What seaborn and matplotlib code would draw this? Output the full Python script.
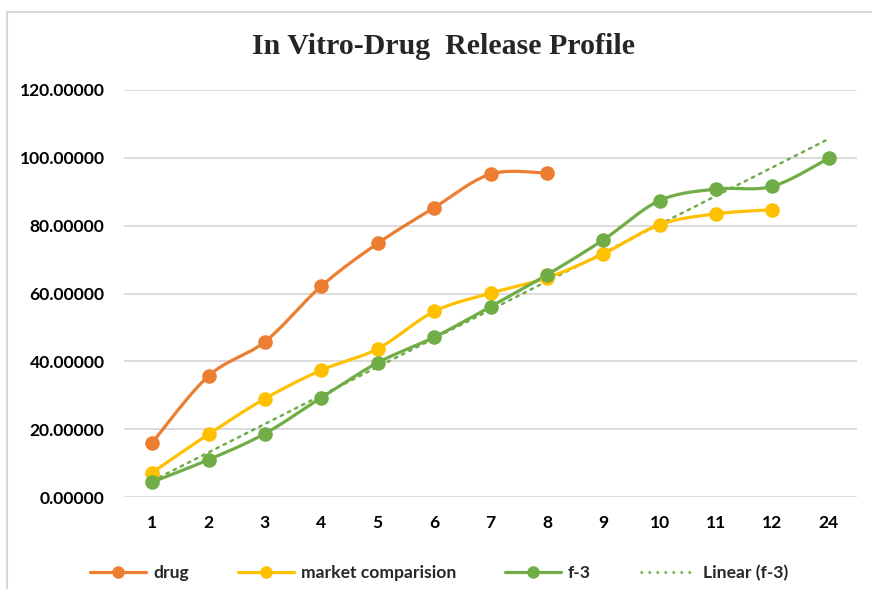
import numpy as np
import pandas as pd
import matplotlib
matplotlib.use("Agg")
import matplotlib.pyplot as plt
from matplotlib.lines import Line2D
from matplotlib.patches import Rectangle
import seaborn as sns

# Sampling times (categories on the x axis)
time_labels = ["1", "2", "3", "4", "5", "6", "7", "8", "9", "10", "11", "12", "24"]

# Cumulative % drug released
drug = [16.0, 35.7, 45.8, 62.2, 74.8, 85.3, 95.2, 95.5]
market = [7.2, 18.5, 29.0, 37.4, 43.7, 54.7, 60.1, 64.6, 71.7, 80.3, 83.5, 84.7]
f3 = [4.4, 11.0, 18.7, 29.3, 39.6, 47.1, 56.1, 65.5, 75.8, 87.4, 90.8, 91.6, 99.9]

y_ticks = [0, 20, 40, 60, 80, 100, 120]

ORANGE = "#ED7D31"
YELLOW = "#FFC000"
GREEN = "#70AD47"
GRID = "#D9D9D9"
FONT = "Lato"


def smooth(xs, ys, n=30):
    """Catmull-Rom curve through the points, as spreadsheet 'smoothed lines'."""
    p = np.column_stack([xs, ys]).astype(float)
    if len(p) < 3:
        return p[:, 0], p[:, 1]
    ext = np.vstack([p[0], p, p[-1]])
    out = []
    t = np.linspace(0, 1, n)[:, None]
    for i in range(1, len(ext) - 2):
        p0, p1, p2, p3 = ext[i - 1], ext[i], ext[i + 1], ext[i + 2]
        c1 = p1 + (p2 - p0) / 6.0
        c2 = p2 - (p3 - p1) / 6.0
        seg = ((1 - t) ** 3) * p1 + 3 * ((1 - t) ** 2) * t * c1 + 3 * (1 - t) * t ** 2 * c2 + t ** 3 * p2
        out.append(seg if i == 1 else seg[1:])
    out = np.vstack(out)
    return out[:, 0], out[:, 1]


sns.set_theme(style="white")
plt.rcParams["font.family"] = [FONT, "DejaVu Sans"]

fig = plt.figure(figsize=(8.72, 5.89), dpi=100)
ax = fig.add_axes([124 / 872, 1 - 497 / 589, (857 - 124) / 872, (497 - 90) / 589])

series = [("drug", drug, ORANGE), ("market comparision", market, YELLOW), ("f-3", f3, GREEN)]

# linear trend of f-3 over category positions 1..n
pos_f3 = np.arange(1, len(f3) + 1)
slope, intercept = np.polyfit(pos_f3, f3, 1)
trend_x = np.array([0, len(f3) - 1])
trend_y = slope * (trend_x + 1) + intercept
sns.lineplot(x=trend_x, y=trend_y, ax=ax, color=GREEN, linewidth=1.8,
             linestyle=(0, (1, 2.2)), dash_capstyle="round", zorder=2, legend=False)

for name, vals, col in series:
    xs = np.arange(len(vals))
    sx, sy = smooth(xs, vals)
    curve = pd.DataFrame({"x": sx, "y": sy})
    sns.lineplot(data=curve, x="x", y="y", ax=ax, color=col, linewidth=2.3,
                 sort=False, estimator=None, zorder=3, legend=False)
    pts = pd.DataFrame({"x": xs, "y": vals})
    sns.scatterplot(data=pts, x="x", y="y", ax=ax, color=col, s=110,
                    edgecolor=col, linewidth=0, zorder=4, legend=False)

ax.set_xlim(-0.5, len(time_labels) - 0.5)
ax.set_ylim(0, 120)
ax.set_xticks(range(len(time_labels)))
ax.set_xticklabels(time_labels)
ax.set_yticks(y_ticks)
ax.set_yticklabels([f"{v:.5f}" for v in y_ticks])
ax.set_xlabel("")
ax.set_ylabel("")
for s in ax.spines.values():
    s.set_visible(False)
ax.yaxis.grid(True, color=GRID, linewidth=1.3)
ax.xaxis.grid(False)
ax.set_axisbelow(True)
ax.tick_params(axis="both", length=0, labelsize=12.6, colors="#000000")
ax.tick_params(axis="y", pad=14)
ax.tick_params(axis="x", pad=13)
for lab in ax.get_xticklabels() + ax.get_yticklabels():
    lab.set_fontweight("bold")

fig.text(443 / 872, 1 - 47 / 589, "In Vitro-Drug  Release Profile",
         family="Liberation Serif", fontweight="bold", fontsize=21.5,
         ha="center", va="center")

handles = [Line2D([], [], color=c, linewidth=2.3, marker="o", markersize=9,
                  markeredgewidth=0) for _, _, c in series]
handles.append(Line2D([], [], color=GREEN, linewidth=1.8, linestyle=(0, (1, 2.2))))
labels = [n for n, _, _ in series] + ["Linear (f-3)"]
leg = fig.legend(handles, labels, loc="center", bbox_to_anchor=(439 / 872, 1 - 573 / 589),
                 ncol=4, frameon=False, handlelength=3.2, handletextpad=0.4,
                 columnspacing=2.8, prop={"family": FONT, "weight": "bold", "size": 12.6})

# outer chart-area frame
fig.add_artist(Rectangle((7 / 872, -0.1), 1.2, 1 - 12 / 589 + 0.1, transform=fig.transFigure,
                         facecolor="none", edgecolor=GRID, linewidth=1.5))

fig.savefig("out.png", dpi=100)
